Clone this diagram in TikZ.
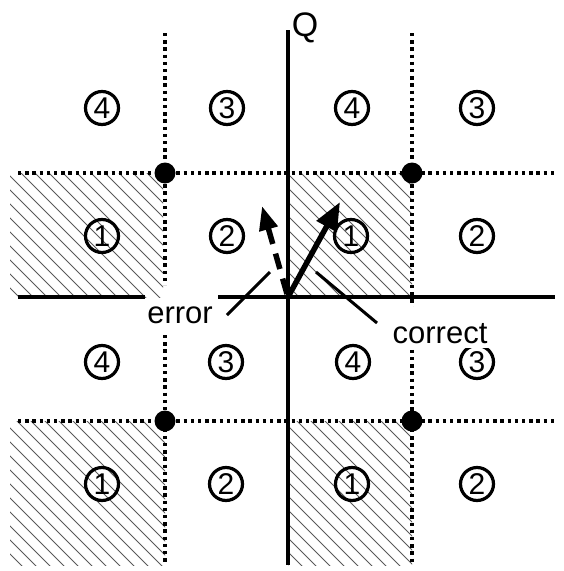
\documentclass[tikz,border=0pt]{standalone}
\usepackage{fontspec}
\setmainfont{Liberation Sans}
\usetikzlibrary{arrows.meta}
\begin{document}
\begin{tikzpicture}[x=1pt,y=-1pt,
  axisline/.style={line width=3.4pt},
  gridline/.style={line width=3.3pt, dash pattern=on 3.3pt off 3.9pt},
  hatchline/.style={line width=1pt, black!65},
  num/.style={circle, draw, line width=3.2pt, minimum size=33pt, inner sep=0pt, font=\fontsize{30}{30}\selectfont},
  lbl/.style={font=\fontsize{31}{31}\selectfont, inner sep=0pt},
  knot/.style={circle, fill=black, minimum size=21pt, inner sep=0pt},
  leader/.style={line width=3pt},
  vec/.style={line width=5.5pt}
]
\useasboundingbox (0,0) rectangle (563,571);
% hatched quadrants
\foreach \xa/\ya/\xb/\yb in {10/173/163/297, 288/173/412/297, 10/421/165/565, 288/421/412/565}{
  \begin{scope}
    \clip (\xa,\ya) rectangle (\xb,\yb);
    \foreach \k in {-600,-586,...,600} \draw[hatchline] (\k,0) -- ++(600,600);
  \end{scope}
}
% dotted grid
\draw[gridline] (18,173) -- (555,173);
\draw[gridline] (18,421) -- (555,421);
\draw[gridline] (165,33) -- (165,285);
\draw[gridline] (165,335) -- (165,565);
\draw[gridline] (412,33) -- (412,565);
% axes
\draw[axisline] (288,30) -- (288,565);
\draw[axisline] (18,297) -- (145,297);
\draw[axisline] (218,297) -- (555,297);
% circled numbers
\node[num] (a1) at (102,108) {4};
\node[num] (a2) at (227,108) {3};
\node[num] (a3) at (352,108) {4};
\node[num] (a4) at (477,108) {3};
\node[num] (b1) at (102,236) {1};
\node[num] (b2) at (227,236) {2};
\node[num] (b3) at (351,236) {1};
\node[num] (b4) at (477,236) {2};
\node[num] (c1) at (102,362) {4};
\node[num] (c2) at (226,362) {3};
\node[num] (c3) at (353,362) {4};
\node[num] (c4) at (477,362) {3};
\node[num] (d1) at (102,484) {1};
\node[num] (d2) at (226,484) {2};
\node[num] (d3) at (352,484) {1};
\node[num] (d4) at (477,484) {2};
% grid knots
\node[knot] (k1) at (165,173) {};
\node[knot] (k2) at (412,173) {};
\node[knot] (k3) at (165,421) {};
\node[knot] (k4) at (412,421) {};
% vectors
\coordinate (O) at (288,297);
\coordinate (Os) at (287,294);
\coordinate (C) at (340,202);
\coordinate (E) at (262,206);
\draw[vec, -{Triangle[length=28pt,width=22pt]}] (O) -- (C);
\draw[vec, dash pattern=on 16pt off 10pt, -{Triangle[length=24pt,width=18pt]}] (Os) -- (E);
% labels
\node[lbl, anchor=base] (err) at (180,323) {error};
\node[lbl, anchor=base, fill=white, text height=36pt, text depth=5pt, inner xsep=3pt] (cor) at (440,343) {correct};
\node[lbl, anchor=base, font=\fontsize{34}{34}\selectfont] (q) at (305,36) {Q};
% leaders
\coordinate (e1) at (227,315);
\coordinate (e2) at (270,272);
\coordinate (c1a) at (316,272);
\coordinate (c2a) at (377,323);
\draw[leader] (e1) -- (e2);
\draw[leader] (c1a) -- (c2a);
\end{tikzpicture}
\end{document}
